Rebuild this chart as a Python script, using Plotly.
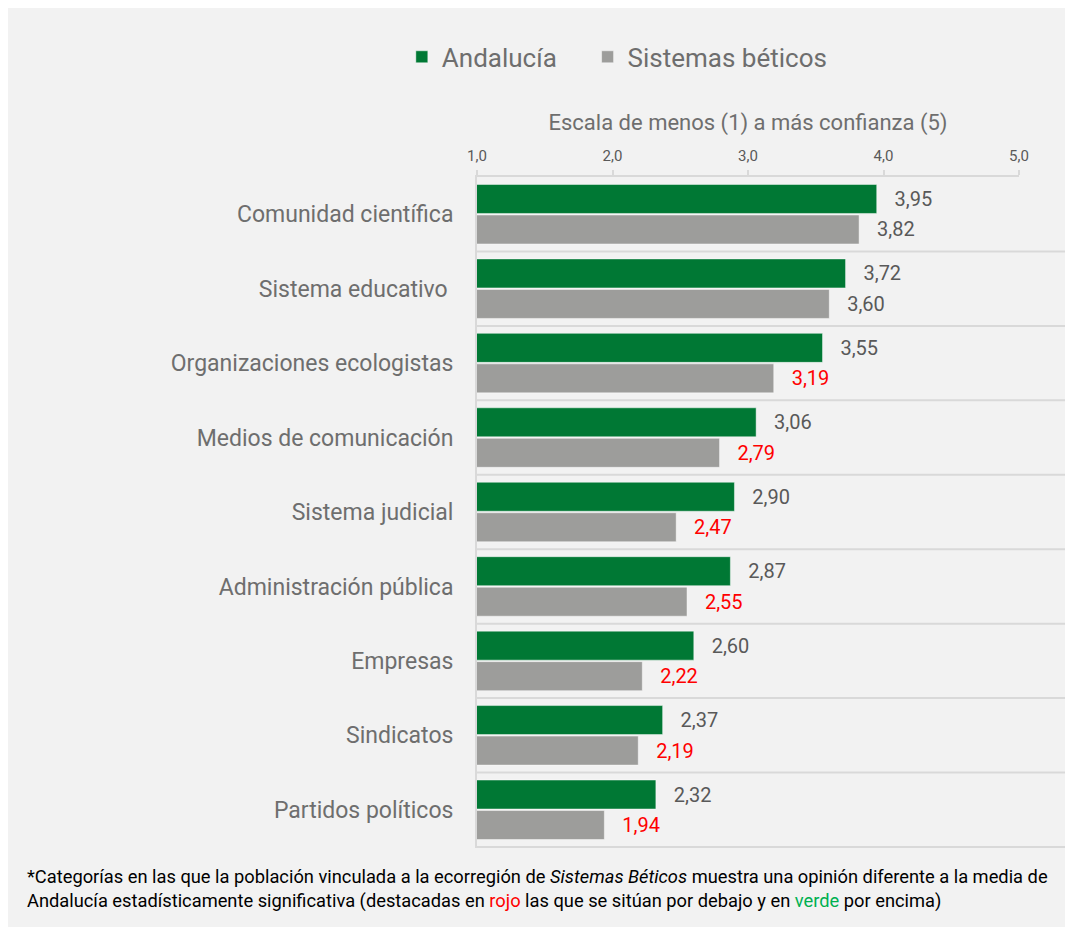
import plotly.graph_objects as go

# Datos del gráfico
categorias = [
    "Comunidad científica",
    "Sistema educativo ",
    "Organizaciones ecologistas",
    "Medios de comunicación",
    "Sistema judicial",
    "Administración pública",
    "Empresas",
    "Sindicatos",
    "Partidos políticos",
]
andalucia = [3.95, 3.72, 3.55, 3.06, 2.90, 2.87, 2.60, 2.37, 2.32]
sistemas_beticos = [3.82, 3.60, 3.19, 2.79, 2.47, 2.55, 2.22, 2.19, 1.94]
# categorías con diferencia significativa (por debajo -> rojo)
significativa = [False, False, True, True, True, True, True, True, True]

tick_vals = [1, 2, 3, 4, 5]

VERDE = "#007834"
GRIS = "#9d9d9b"
TEXTO = "#6e6e6e"
VALOR = "#595959"
ROJO = "#ff0000"
LINEA = "#d9d9d9"
FONDO = "#f2f2f2"
FUENTE = "Roboto"

PAD = "\u00a0\u00a0\u00a0"

fig = go.Figure()

fig.add_trace(go.Bar(
    y=categorias, x=andalucia, orientation="h",
    name="Andalucía" + "\u00a0" * 4,   # espacio extra entre entradas de la leyenda
    marker=dict(color=VERDE, line=dict(color="rgba(255,255,255,0.45)", width=1)),
    text=[PAD + f"{v:.2f}".replace(".", ",") for v in andalucia],
    textposition="outside", textangle=0, constraintext="none",
    textfont=dict(family=FUENTE, size=20, color=VALOR),
    hoverinfo="skip",
))
fig.add_trace(go.Bar(
    y=categorias, x=sistemas_beticos, orientation="h", name="Sistemas béticos",
    marker=dict(color=GRIS, line=dict(color="rgba(255,255,255,0.45)", width=1)),
    text=[PAD + f"{v:.2f}".replace(".", ",") for v in sistemas_beticos],
    textposition="outside", textangle=0, constraintext="none",
    textfont=dict(family=FUENTE, size=20,
                  color=[ROJO if s else VALOR for s in significativa]),
    hoverinfo="skip",
))

# separadores entre categorías
shapes = []
for i in range(len(categorias)):
    shapes.append(dict(type="line", xref="paper", yref="y",
                       x0=0, x1=1.096, y0=i + 0.5, y1=i + 0.5,
                       line=dict(color=LINEA, width=2), layer="below"))

nota = ("*Categorías en las que la población vinculada a la ecorregión de "
        "<i>Sistemas Béticos</i> muestra una opinión diferente a la media de<br>"
        "Andalucía estadísticamente significativa (destacadas en "
        "<span style='color:#ff0000'>rojo</span> las que se sitúan por debajo y en "
        "<span style='color:#00b050'>verde</span> por encima)")

fig.update_layout(
    width=1063, height=919,
    paper_bgcolor=FONDO, plot_bgcolor="rgba(0,0,0,0)",
    margin=dict(l=469, r=52, t=169, b=79),
    font=dict(family=FUENTE, color=TEXTO),
    separators=",.",
    barmode="group", bargap=0.18, bargroupgap=0.05,
    shapes=shapes,
    showlegend=True,
    legend=dict(orientation="h", x=-0.1387, xanchor="left", y=1.179, yanchor="middle",
                font=dict(family=FUENTE, size=26, color=TEXTO),
                bgcolor="rgba(0,0,0,0)", traceorder="normal"),
    xaxis=dict(
        side="top", range=[1, 5], tickvals=tick_vals, tickformat=".1f",
        showgrid=False, zeroline=False,
        showline=True, linecolor=LINEA, linewidth=2,
        ticks="outside", ticklen=5, tickcolor=LINEA, tickwidth=2,
        ticklabelstandoff=3,
        tickfont=dict(family=FUENTE, size=15, color=VALOR),
        title=dict(text="Escala de menos (1) a más confianza (5)", standoff=10,
                   font=dict(family=FUENTE, size=22, color=TEXTO)),
    ),
    yaxis=dict(
        autorange="reversed", showgrid=False, zeroline=False,
        showline=True, linecolor=LINEA, linewidth=2,
        ticks="", ticklabelstandoff=17,
        tickfont=dict(family=FUENTE, size=23, color=TEXTO),
    ),
    annotations=[dict(xref="paper", yref="paper", x=-0.834, y=-0.024,
                      xanchor="left", yanchor="top", align="left", showarrow=False,
                      text=nota, font=dict(family=FUENTE, size=18.3, color="#000000"))],
)

fig.write_html("out.html")
